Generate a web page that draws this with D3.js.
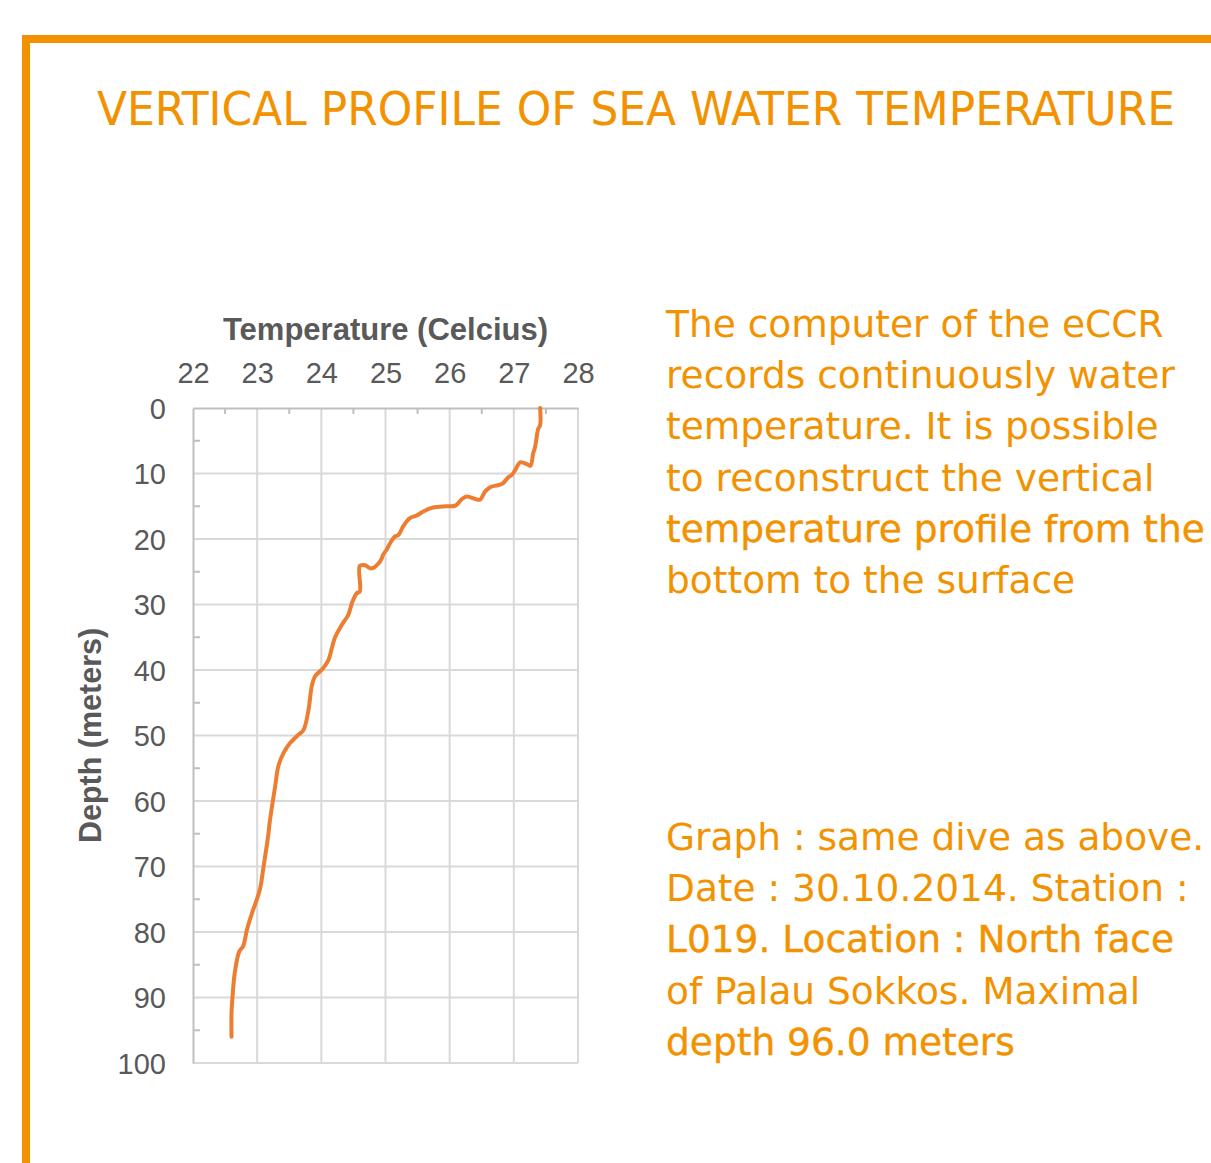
<!DOCTYPE html>
<html>
<head>
<meta charset="utf-8">
<script src="https://cdn.jsdelivr.net/npm/d3@7"></script>
<style>
  body { margin: 0; background: #fff; }
  svg { display: block; }
</style>
</head>
<body>
<svg id="chart"></svg>
<script>
// temperature profile (surface -> bottom)
var depths = [0, 2.6, 3.2, 6.0, 7.0, 8.8, 8.6, 8.3, 9.5, 10.2, 10.6, 11.5, 11.8, 12.0, 12.3, 12.8, 14.0, 13.9, 13.5, 13.9, 14.9,
    15.0, 15.2, 15.8, 16.4, 16.8, 18.0, 19.4, 19.6, 20.5, 21.6, 22.3, 23.5, 24.5, 24.0, 24.1, 28.0, 28.3, 29.7, 31.6,
    33.1, 35.1, 38.5, 39.7, 41.0, 42.5, 46.1, 49.2, 49.9, 51.2, 52.7, 54.7, 57.8, 62.9, 65.4, 70.0, 73.6, 77.4, 79.7,
    82.2, 83.0, 86.3, 89.4, 92.4, 96.0];
var temps = [27.41, 27.41, 27.38, 27.33, 27.30, 27.26, 27.21, 27.10, 27.02, 26.97, 26.91, 26.83, 26.75, 26.65, 26.60, 26.55, 26.47, 26.40, 26.27, 26.19, 26.09,
    25.95, 25.74, 25.59, 25.49, 25.38, 25.28, 25.20, 25.15, 25.08, 25.02, 24.97, 24.91, 24.78, 24.68, 24.60, 24.60, 24.55, 24.48, 24.42,
    24.32, 24.21, 24.11, 24.03, 23.90, 23.85, 23.80, 23.72, 23.64, 23.51, 23.41, 23.33, 23.28, 23.20, 23.17, 23.10, 23.04, 22.91, 22.84,
    22.78, 22.72, 22.65, 22.62, 22.60, 22.60];

var tempTicks = [22, 23, 24, 25, 26, 27, 28];
var depthTicks = [0, 10, 20, 30, 40, 50, 60, 70, 80, 90, 100];

var title = "VERTICAL PROFILE OF SEA WATER TEMPERATURE";
var introLines = ["The computer of the eCCR", "records continuously water", "temperature. It is possible",
    "to reconstruct the vertical", "temperature profile from the", "bottom to the surface"];
var infoLines = ["Graph : same dive as above.", "Date : 30.10.2014. Station :", "L019. Location : North face",
    "of Palau Sokkos. Maximal", "depth 96.0 meters"];

var W = 1211, H = 1163;
var orange = "#f39200";
var grey = "#595959";

var svg = d3.select("#chart").attr("width", W).attr("height", H);

// orange frame (open to the right and bottom)
svg.append("path")
    .attr("d", "M26," + H + "V39H" + W)
    .attr("fill", "none")
    .attr("stroke", orange)
    .attr("stroke-width", 8);

svg.append("text")
    .attr("x", 97)
    .attr("y", 125)
    .attr("font-family", "'DejaVu Sans Condensed', 'DejaVu Sans', sans-serif")
    .attr("font-size", 47)
    .attr("fill", orange)
    .attr("textLength", 1078)
    .attr("lengthAdjust", "spacingAndGlyphs")
    .text(title);

// chart
var margin = { top: 408, left: 193 };
var width = 385, height = 655;

var g = svg.append("g").attr("transform", "translate(" + margin.left + "," + margin.top + ")");

var x = d3.scaleLinear().domain([22, 28]).range([0, width]);
var y = d3.scaleLinear().domain([0, 100]).range([0, height]);

//gridlines
g.selectAll(".vgrid")
    .data(tempTicks.slice(1))
    .enter().append("line")
    .attr("x1", d => x(d)).attr("x2", d => x(d))
    .attr("y1", 0).attr("y2", height)
    .attr("stroke", "#d9d9d9").attr("stroke-width", 2);

g.selectAll(".hgrid")
    .data(depthTicks.slice(1))
    .enter().append("line")
    .attr("x1", 0).attr("x2", width)
    .attr("y1", d => y(d)).attr("y2", d => y(d))
    .attr("stroke", "#d9d9d9").attr("stroke-width", 2);

// minor ticks
var halfTemps = d3.range(22.5, 28, 1);
g.selectAll(".mx")
    .data(halfTemps)
    .enter().append("line")
    .attr("x1", d => x(d)).attr("x2", d => x(d))
    .attr("y1", 0).attr("y2", 6)
    .attr("stroke", "#bfbfbf").attr("stroke-width", 2);

var halfDepths = d3.range(5, 100, 10);
g.selectAll(".my")
    .data(halfDepths)
    .enter().append("line")
    .attr("x1", 0).attr("x2", 7)
    .attr("y1", d => y(d)).attr("y2", d => y(d))
    .attr("stroke", "#bfbfbf").attr("stroke-width", 2);

//axes
var xAxis = g.append("g")
    .call(d3.axisTop(x).tickValues(tempTicks).tickFormat(d3.format("d")).tickSize(0).tickPadding(25));
var yAxis = g.append("g")
    .call(d3.axisLeft(y).tickValues(depthTicks).tickFormat(d3.format("d")).tickSize(0).tickPadding(27));

[xAxis, yAxis].forEach(a => {
    a.select(".domain").attr("stroke", "#bfbfbf").attr("stroke-width", 2);
    a.selectAll("text")
        .attr("font-family", "'Liberation Sans', Arial, sans-serif")
        .attr("font-size", 29)
        .attr("fill", grey);
});
yAxis.selectAll("text").attr("dy", "0.36em");

g.append("text")
    .attr("x", width / 2)
    .attr("y", -68)
    .attr("text-anchor", "middle")
    .attr("font-family", "'Liberation Sans', Arial, sans-serif")
    .attr("font-weight", "bold")
    .attr("font-size", 31)
    .attr("fill", grey)
    .text("Temperature (Celcius)");

g.append("text")
    .attr("transform", "rotate(-90)")
    .attr("x", -y(50))
    .attr("y", -92)
    .attr("text-anchor", "middle")
    .attr("font-family", "'Liberation Sans', Arial, sans-serif")
    .attr("font-weight", "bold")
    .attr("font-size", 30.5)
    .attr("fill", grey)
    .text("Depth (meters)");

// the profile line
var profile = depths.map((d, i) => ({ depth: d, temp: temps[i] }));

var line = d3.line()
    .x(d => x(d.temp))
    .y(d => y(d.depth))
    .curve(d3.curveCatmullRom.alpha(0.5));

g.append("path")
    .datum(profile)
    .attr("d", line)
    .attr("fill", "none")
    .attr("stroke", "#ed7d31")
    .attr("stroke-width", 4)
    .attr("stroke-linecap", "round")
    .attr("stroke-linejoin", "round");

// side texts
function block(lines, y0, heavy) {
    svg.append("g").selectAll("text")
        .data(lines)
        .enter().append("text")
        .attr("x", 666)
        .attr("y", (d, i) => y0 + i * 51.2)
        .attr("font-family", "'DejaVu Sans', sans-serif")
        .attr("font-size", 37.5)
        .attr("fill", orange)
        .attr("stroke", (d, i) => heavy.indexOf(i) >= 0 ? orange : "none")
        .attr("stroke-width", 0.4)
        .text(d => d);
}
block(introLines, 337, [4]);
block(infoLines, 850, [2, 4]);
</script>
</body>
</html>
